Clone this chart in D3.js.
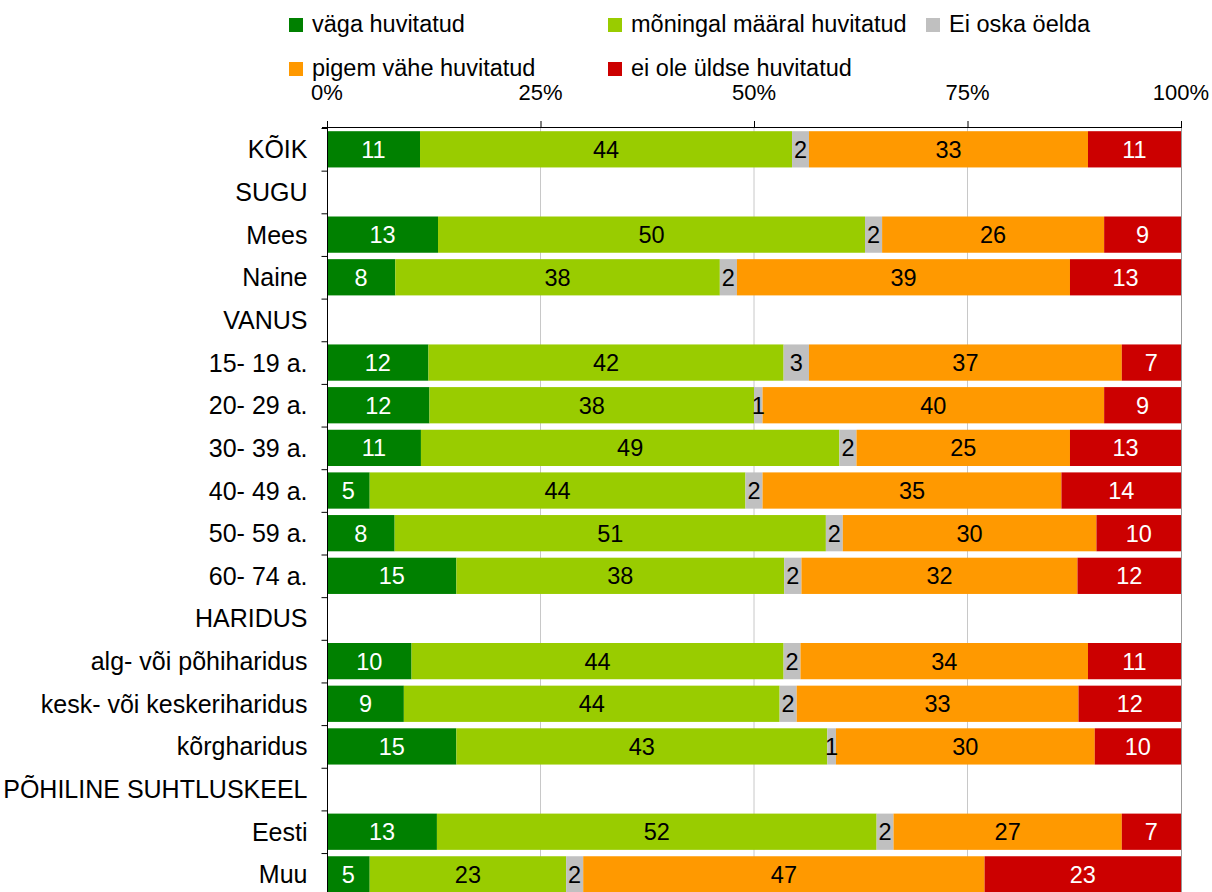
<!DOCTYPE html>
<html>
<head>
    <script src="https://cdnjs.cloudflare.com/ajax/libs/d3/7.8.5/d3.min.js"></script>
    <style>
        body { margin: 0; background: #fff; }
        text { font-family: "Liberation Sans", Arial, sans-serif; }
        .grid line { stroke: #c8c8c8; stroke-width: 1px; }
    </style>
</head>
<body>
    <div id="chart"></div>
    <script>
        const width = 1212, height = 892;

        const categories = ["KÕIK", "SUGU", "Mees", "Naine", "VANUS", "15- 19 a.", "20- 29 a.", "30- 39 a.",
            "40- 49 a.", "50- 59 a.", "60- 74 a.", "HARIDUS", "alg- või põhiharidus", "kesk- või keskeriharidus",
            "kõrgharidus", "PÕHILINE SUHTLUSKEEL", "Eesti", "Muu"];
        const seriesNames = ["väga huvitatud", "mõningal määral huvitatud", "Ei oska öelda", "pigem vähe huvitatud", "ei ole üldse huvitatud"];
        const colors = ["#008000", "#99cc00", "#c0c0c0", "#ff9900", "#cc0000"];
        const labelColors = ["#fff", "#000", "#000", "#000", "#fff"];

        // one array per series, null for header rows
        const vaga    = [11, null, 13, 8, null, 12, 12, 11, 5, 8, 15, null, 10, 9, 15, null, 13, 5];
        const moningal = [44, null, 50, 38, null, 42, 38, 49, 44, 51, 38, null, 44, 44, 43, null, 52, 23];
        const eiOska  = [2, null, 2, 2, null, 3, 1, 2, 2, 2, 2, null, 2, 2, 1, null, 2, 2];
        const pigem   = [33, null, 26, 39, null, 37, 40, 25, 35, 30, 32, null, 34, 33, 30, null, 27, 47];
        const eiOle   = [11, null, 9, 13, null, 7, 9, 13, 14, 10, 12, null, 11, 12, 10, null, 7, 23];
        const series = [vaga, moningal, eiOska, pigem, eiOle];
        const tickLabels = ["0%", "25%", "50%", "75%", "100%"];

        const svg = d3.select("#chart").append("svg").attr("width", width).attr("height", height);

        const x = d3.scaleLinear().domain([0, 1]).range([327, 1181]);
        const y = d3.scaleBand().domain(categories).range([128, 128 + 42.65 * categories.length]).paddingInner(0.15).paddingOuter(0.075);

        // grid
        svg.append("g").attr("class", "grid")
            .selectAll("line").data([0.25, 0.5, 0.75]).enter().append("line")
            .attr("x1", d => x(d)).attr("x2", d => x(d))
            .attr("y1", 128).attr("y2", height);

        // bars
        const rows = categories.map((c, i) => {
            const vals = series.map(s => s[i]);
            if (vals[0] === null) return null;
            const total = d3.sum(vals);
            let acc = 0;
            return vals.map((v, k) => {
                const seg = { cat: c, k, v, x0: acc / total, x1: (acc + v) / total };
                acc += v;
                return seg;
            });
        }).filter(r => r);

        const segs = rows.flat();
        const bars = svg.append("g");
        bars.selectAll("rect").data(segs).enter().append("rect")
            .attr("x", d => x(d.x0))
            .attr("width", d => x(d.x1) - x(d.x0))
            .attr("y", d => y(d.cat))
            .attr("height", y.bandwidth())
            .attr("fill", d => colors[d.k]);

        bars.selectAll("text").data(segs).enter().append("text")
            .attr("x", d => (x(d.x0) + x(d.x1)) / 2)
            .attr("y", d => y(d.cat) + y.bandwidth() / 2)
            .attr("dy", "0.36em")
            .attr("text-anchor", "middle")
            .attr("font-size", 23.5)
            .attr("fill", d => labelColors[d.k])
            .text(d => d.v);

        // right edge line
        svg.append("line").attr("x1", 1181.5).attr("x2", 1181.5).attr("y1", 128).attr("y2", height)
            .attr("stroke", "#999");

        // left axis
        const yAxis = svg.append("g").attr("transform", "translate(327.5,0)");
        yAxis.append("line").attr("x1", 0).attr("x2", 0).attr("y1", 122).attr("y2", height).attr("stroke", "#000");
        const step = y.step();
        yAxis.selectAll(".tk").data(d3.range(categories.length + 1)).enter().append("line")
            .attr("x1", -6).attr("x2", 0)
            .attr("y1", i => 128.5 + i * step).attr("y2", i => 128.5 + i * step)
            .attr("stroke", "#000");
        yAxis.selectAll("text").data(categories).enter().append("text")
            .attr("x", -20)
            .attr("y", d => y(d) + y.bandwidth() / 2)
            .attr("dy", "0.36em")
            .attr("text-anchor", "end")
            .attr("font-size", 25)
            .text(d => d);

        // top axis
        const xAxis = svg.append("g");
        xAxis.append("line").attr("x1", 322).attr("x2", 1181).attr("y1", 127.5).attr("y2", 127.5).attr("stroke", "#000");
        xAxis.selectAll("line.t").data(tickLabels).enter().append("line")
            .attr("x1", (d, i) => x(i / 4) + 0.5).attr("x2", (d, i) => x(i / 4) + 0.5)
            .attr("y1", 121).attr("y2", 128)
            .attr("stroke", "#000");
        xAxis.selectAll("text").data(tickLabels).enter().append("text")
            .attr("x", (d, i) => x(i / 4))
            .attr("y", 100)
            .attr("text-anchor", "middle")
            .attr("font-size", 22)
            .text(d => d);

        // legend
        const legendPos = [[289, 32], [608, 32], [926, 32], [289, 76], [608, 76]];
        const legend = svg.append("g").selectAll("g").data(seriesNames).enter().append("g")
            .attr("transform", (d, i) => `translate(${legendPos[i][0]},${legendPos[i][1]})`);
        legend.append("rect").attr("x", 0).attr("y", -14).attr("width", 14).attr("height", 14)
            .attr("fill", (d, i) => colors[i]);
        legend.append("text").attr("x", 23).attr("font-size", 23.5).text(d => d);
    </script>
</body>
</html>
